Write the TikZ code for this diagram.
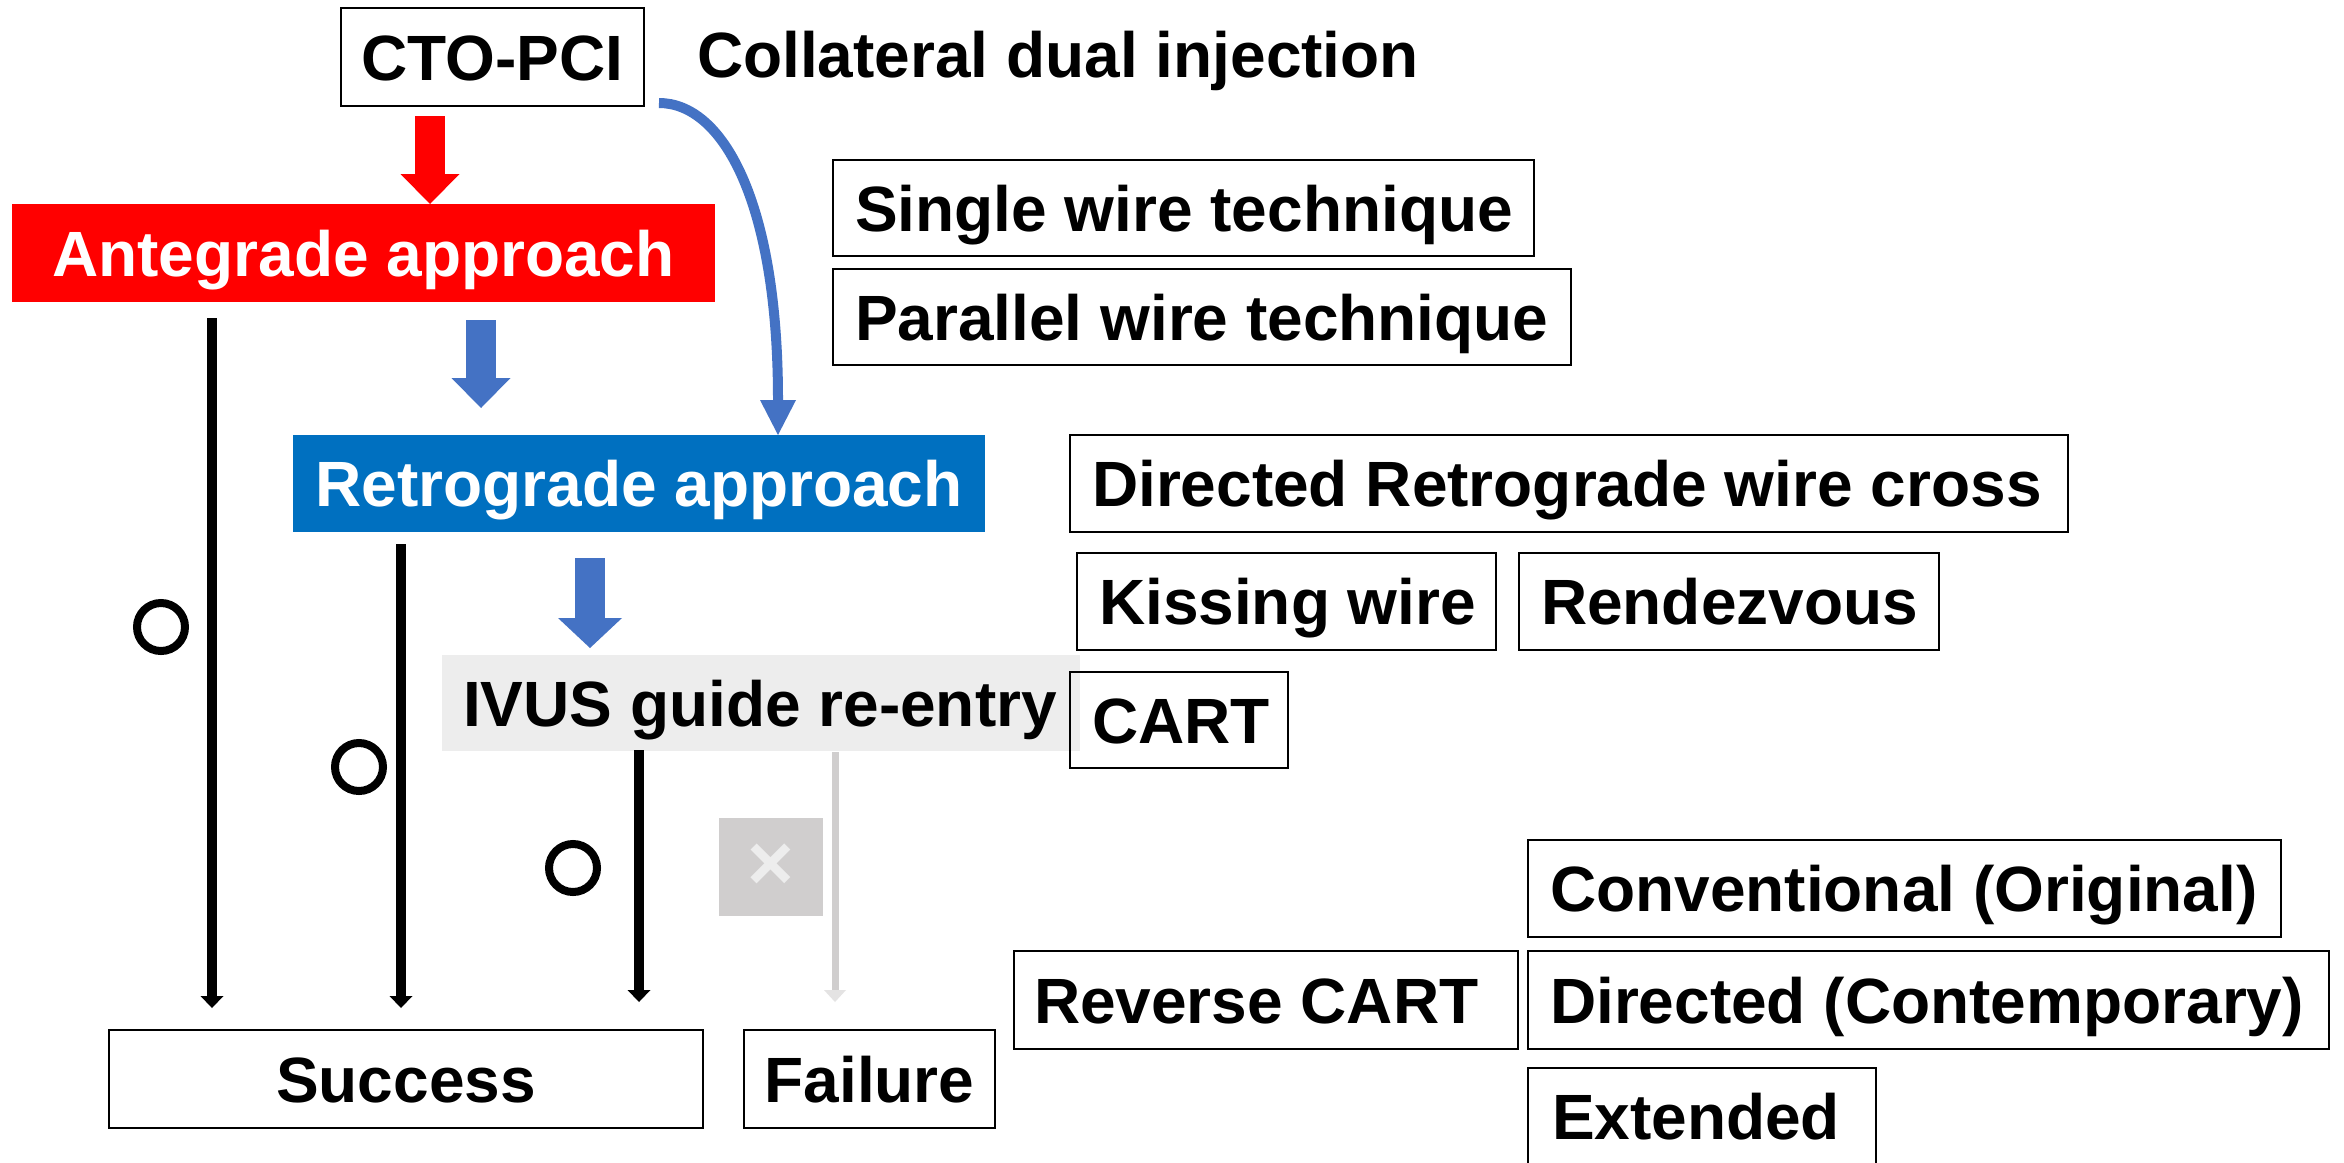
\documentclass[tikz,border=0pt]{standalone}
\usepackage{fontspec}
\setmainfont{Liberation Sans}
\usetikzlibrary{arrows.meta,calc}

\definecolor{antered}{HTML}{FF0000}
\definecolor{retroblue}{HTML}{0070C0}
\definecolor{arrowblue}{HTML}{4472C4}
\definecolor{ivusgray}{HTML}{EDEDED}
\definecolor{failgray}{HTML}{D0CECE}
\definecolor{failtip}{HTML}{E4E3E3}

% one unbroken line with the font's own word space
\newcommand\boxtext[1]{\mbox{\spaceskip=0.278em\relax #1}}

\tikzset{
  lbl/.style={font=\fontsize{64}{70}\selectfont\bfseries, text height=46pt,
    text depth=0pt, inner sep=0pt, outer sep=0pt},
  cbox/.style={lbl, draw=black, line width=2pt, anchor=north west, align=center},
  lbox/.style={lbl, draw=black, line width=2pt, anchor=north west, align=left,
    inner xsep=22pt},
  ring/.style={circle, draw=black, line width=8pt, minimum size=48pt,
    inner sep=0pt, outer sep=0pt},
  blockarrow/.style={line width=30pt,
    -{Triangle[width=#1,length=30pt,line width=0pt]}},
  blk/.style={draw=black, line width=10pt,
    -{Triangle[width=23pt,length=12pt,line width=0pt]}},
  greyflow/.style={draw=failgray, line width=7pt,
    -{Triangle[width=22pt,length=12pt,line width=0pt,color=failtip]}},
  collatflow/.style={draw=arrowblue, line width=10pt,
    -{Triangle[width=36pt,length=35pt,line width=0pt]}}
}

\begin{document}
\begin{tikzpicture}[x=1pt,y=-1pt]
  % canvas
  \fill[white] (0,0) rectangle (2344,1162);
  \useasboundingbox (0,0) rectangle (2344,1162);

  % start and the two approaches
  \node[cbox, minimum width=303pt, minimum height=98pt] (cto) at (341,8) {CTO-PCI};
  \node[lbl, anchor=base west] (collat) at (697,77) {Collateral dual injection};
  \node[cbox, draw=none, fill=antered, text=white, minimum width=703pt,
        minimum height=98pt] (ante) at (12,204) {\boxtext{Antegrade approach}};
  \node[cbox, draw=none, fill=retroblue, text=white, minimum width=692pt,
        minimum height=97pt] (retro) at (293,435) {\boxtext{Retrograde approach}};
  \node[lbox, draw=none, fill=ivusgray, inner xsep=21pt, text width=596pt,
        minimum height=96pt] (ivus) at (442,655) {\boxtext{IVUS guide re-entry}};

  % antegrade techniques
  \node[lbox, text width=657pt, minimum height=96pt] (single) at (833,160)
    {\boxtext{Single wire technique}};
  \node[lbox, text width=694pt, minimum height=96pt] (parallel) at (833,269)
    {\boxtext{Parallel wire technique}};

  % retrograde techniques
  \node[lbox, text width=954pt, minimum height=97pt] (drwc) at (1070,435)
    {\boxtext{Directed Retrograde wire cross}};
  \node[lbox, text width=375pt, minimum height=97pt] (kiss) at (1077,553)
    {\boxtext{Kissing wire}};
  \node[lbox, text width=376pt, minimum height=97pt] (rendez) at (1519,553)
    {\boxtext{Rendezvous}};
  \node[lbox, text width=174pt, minimum height=96pt] (cart) at (1070,672)
    {\boxtext{CART}};
  \node[lbox, text width=709pt, minimum height=97pt] (conv) at (1528,840)
    {\boxtext{Conventional (Original)}};
  \node[lbox, inner xsep=20pt, text width=464pt, minimum height=98pt] (rcart) at (1014,951)
    {\boxtext{Reverse CART}};
  \node[lbox, text width=757pt, minimum height=98pt] (dirc) at (1528,951)
    {\boxtext{Directed (Contemporary)}};
  \node[lbox, inner xsep=24pt, text width=300pt, minimum height=97pt] (ext) at (1528,1068)
    {\boxtext{Extended}};

  % outcomes
  \node[cbox, minimum width=594pt, minimum height=98pt] (success) at (109,1030) {Success};
  \node[cbox, minimum width=251pt, minimum height=98pt] (failure) at (744,1030) {Failure};

  % block arrows between the stages
  \coordinate (r1) at ($(cto.south west)+(89,10)$);
  \draw[antered, blockarrow=59pt] (r1) -- (r1 |- ante.north);
  \coordinate (b1) at ($(ante.south west)+(469,18)$);
  \draw[arrowblue, blockarrow=59pt] (b1) -- ($(b1 |- retro.north)+(0,-27)$);
  \coordinate (b2) at ($(retro.south west)+(297,26)$);
  \draw[arrowblue, blockarrow=64pt] (b2) -- ($(b2 |- ivus.north)+(0,-7)$);

  % collateral route straight to the retrograde approach
  \coordinate (c0) at ($(cto.south east)+(15,-3)$);
  \coordinate (c1) at ($(retro.north west)+(485,0)$);
  \draw[collatflow] (c0) .. controls ($(c0)+(63,0)$) and ($(c1)+(0,-235)$) .. (c1);

  % outcome lines
  \coordinate (a1) at ($(ante.south west)+(200,16)$);
  \draw[blk] (a1) -- ($(a1 |- success.north)+(0,-22)$);
  \coordinate (a2) at ($(retro.south west)+(108,12)$);
  \draw[blk] (a2) -- ($(a2 |- success.north)+(0,-22)$);
  \coordinate (a3) at ($(ivus.south west)+(197,-1)$);
  \draw[blk] (a3) -- ($(a3 |- success.north)+(0,-28)$);
  \coordinate (g0) at ($(ivus.south west)+(393,1)$);
  \draw[greyflow] (g0) -- ($(g0 |- failure.north)+(0,-28)$);

  % success and failure marks
  \node[ring] (o1) at (161,627) {};
  \node[ring] (o2) at (359,767) {};
  \node[ring] (o3) at (573,868) {};
  \node[fill=failgray, minimum width=104pt, minimum height=98pt, inner sep=0pt,
        anchor=north west, text=ivusgray,
        font=\fontsize{80}{80}\selectfont\bfseries] (xmark) at (719,818) {×};
\end{tikzpicture}
\end{document}
